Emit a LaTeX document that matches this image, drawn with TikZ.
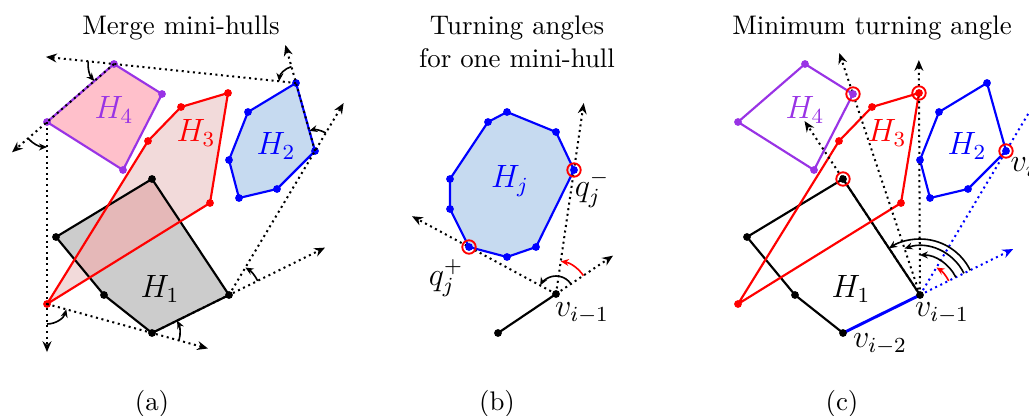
\documentclass[tikz,border=0pt]{standalone}
\usetikzlibrary{arrows.meta,calc}
\definecolor{hpurple}{rgb}{0.6,0.2,0.9}
\definecolor{hpink}{RGB}{255,192,203}
\definecolor{hblue}{RGB}{198,218,240}
\definecolor{hredfill}{RGB}{242,218,218}
\definecolor{hover}{RGB}{229,184,184}
\definecolor{hgray}{RGB}{204,204,204}
\newcommand\defhulls[1]{%
  \coordinate (#1A1) at (152,-179); \coordinate (#1A2) at (56,-237);
  \coordinate (#1A3) at (104,-295); \coordinate (#1A4) at (152,-333);
  \coordinate (#1A5) at (229,-295);
  \coordinate (#1B1) at (296,-83);  \coordinate (#1B2) at (248,-112);
  \coordinate (#1B3) at (229,-160); \coordinate (#1B4) at (239,-198);
  \coordinate (#1B5) at (277,-189); \coordinate (#1B6) at (315,-151);
  \coordinate (#1C1) at (47,-304);  \coordinate (#1C2) at (148,-141);
  \coordinate (#1C3) at (181,-107); \coordinate (#1C4) at (228,-93);
  \coordinate (#1C5) at (210,-203);
  \coordinate (#1D1) at (114,-64);  \coordinate (#1D2) at (162,-94);
  \coordinate (#1D3) at (123,-170); \coordinate (#1D4) at (47,-122);
}
\begin{document}
\begin{tikzpicture}[x=0.372pt,y=0.372pt,
  hull/.style={line width=0.8pt, line join=round},
  dotl/.style={line width=0.75pt, dash pattern=on 0.75pt off 1.35pt},
  dotarrow/.style={dotl, -{Stealth[length=4pt,width=3.3pt]}},
  turn/.style={line width=0.6pt, -{Stealth[length=3pt,width=2.6pt]}},
  pt/.style={circle, fill=#1, inner sep=0pt, minimum size=2.9pt},
  ring/.style={circle, draw=red, line width=0.7pt, inner sep=0pt, minimum size=5pt},
  lab/.style={inner sep=0pt, font=\fontsize{11.5}{14}\selectfont}]
\useasboundingbox (0,0) rectangle (1029,-416);

% ================= panel (a) =================
\defhulls{a}
\fill[hgray] (aA1)--(aA2)--(aA3)--(aA4)--(aA5)--cycle;
\fill[hredfill] (aC1)--(aC2)--(aC3)--(aC4)--(aC5)--cycle;
\begin{scope}
  \clip (aA1)--(aA2)--(aA3)--(aA4)--(aA5)--cycle;
  \fill[hover] (aC1)--(aC2)--(aC3)--(aC4)--(aC5)--cycle;
\end{scope}
\fill[hpink] (aD1)--(aD2)--(aD3)--(aD4)--cycle;
\fill[hblue] (aB1)--(aB2)--(aB3)--(aB4)--(aB5)--(aB6)--cycle;
\draw[hull,black] (aA1)--(aA2)--(aA3)--(aA4)--(aA5)--cycle;
\draw[hull,red] (aC1)--(aC2)--(aC3)--(aC4)--(aC5)--cycle;
\draw[hull,hpurple] (aD1)--(aD2)--(aD3)--(aD4)--cycle;
\draw[hull,blue] (aB1)--(aB2)--(aB3)--(aB4)--(aB5)--(aB6)--cycle;
\foreach \i in {1,...,5} \node[pt=black] at (aA\i) {};
\foreach \i in {1,...,6} \node[pt=blue] at (aB\i) {};
\foreach \i in {1,...,5} \node[pt=red] at (aC\i) {};
\foreach \i in {1,...,4} \node[pt=hpurple] at (aD\i) {};
% merged hull wrapping
\draw[dotarrow] (aC1) -- ($(aC1)!1.533!(aA4)$);
\draw[dotarrow] (aA4) -- ($(aA4)!2.247!(aA5)$);
\draw[dotarrow] (aA5) -- ($(aA5)!1.333!(aB6)$);
\draw[dotarrow] (aB6) -- ($(aB6)!1.559!(aB1)$);
\draw[dotarrow] (aB1) -- ($(aB1)!1.374!(aD1)$);
\draw[dotarrow] (aD1) -- ($(aD1)!1.522!(aD4)$);
\draw[dotarrow] (aD4) -- ($(aD4)!1.264!(aC1)$);
% turning angles
\draw[turn] ($(aC1)+(-90:20)$) arc[start angle=-90, end angle=-15.4, radius=20];
\draw[turn] ($(aA4)+(-15.4:28)$) arc[start angle=-15.4, end angle=26.3, radius=28];
\draw[turn] ($(aA5)+(26.3:32)$) arc[start angle=26.3, end angle=59.2, radius=32];
\draw[turn] ($(aB6)+(59.2:21)$) arc[start angle=59.2, end angle=105.6, radius=21];
\draw[turn] ($(aB1)+(105.6:17)$) arc[start angle=105.6, end angle=174, radius=17];
\draw[turn] ($(aD1)+(174:26)$) arc[start angle=174, end angle=220.9, radius=26];
\draw[turn] ($(aD4)+(220.9:25)$) arc[start angle=220.9, end angle=270, radius=25];
\node[lab] (la1) at (160,-289) {$H_1$};
\node[lab,blue] (la2) at (276,-146) {$H_2$};
\node[lab,red] (la3) at (196,-133) {$H_3$};
\node[lab,hpurple] (la4) at (114,-110) {$H_4$};
\node[anchor=base] (ta) at (181,-35) {Merge mini-hulls};
\node[anchor=base] (pa) at (152,-410) {(a)};

% ================= panel (b) =================
\coordinate (j1) at (507,-112); \coordinate (j2) at (488,-122);
\coordinate (j3) at (450,-179); \coordinate (j4) at (450,-209);
\coordinate (j5) at (469,-247); \coordinate (j6) at (507,-257);
\coordinate (j7) at (536,-247); \coordinate (j8) at (574,-170);
\coordinate (j9) at (556,-132);
\coordinate (bv) at (556,-294); \coordinate (bu) at (498,-333);
\fill[hblue] (j1)--(j2)--(j3)--(j4)--(j5)--(j6)--(j7)--(j8)--(j9)--cycle;
\draw[hull,blue] (j1)--(j2)--(j3)--(j4)--(j5)--(j6)--(j7)--(j8)--(j9)--cycle;
\draw[hull,black] (bu) -- (bv);
\draw[dotarrow] (bv) -- ($(bu)!1.983!(bv)$);
\draw[dotarrow] (bv) -- ($(bv)!1.655!(j5)$);
\draw[dotarrow] (bv) -- ($(bv)!1.54!(j8)$);
\foreach \i in {1,...,9} \node[pt=blue] at (j\i) {};
\node[pt=black] at (bv) {};
\node[pt=black] at (bu) {};
\node[ring] at (j5) {};
\node[ring] at (j8) {};
\draw[turn] ($(bv)+(33.9:18)$) arc[start angle=33.9, end angle=151.6, radius=18];
\draw[turn,red] ($(bv)+(33.9:33)$) arc[start angle=33.9, end angle=81.7, radius=33];
\node[lab,blue] (lj) at (510,-181) {$H_j$};
\node[lab] (lqm) at (592,-189) {$q_j^-$};
\node[lab] (lqp) at (446,-278) {$q_j^+$};
\node[lab] (lbv) at (582,-313) {$v_{i-1}$};
\node[anchor=base] (tb1) at (517,-35) {Turning angles};
\node[anchor=base] (tb2) at (517,-68) {for one mini-hull};
\node[anchor=base] (pb) at (497,-410) {(b)};

% ================= panel (c) =================
\begin{scope}[shift={(691,0)}]
\defhulls{c}
\end{scope}
\draw[hull,black] (cA1)--(cA2)--(cA3)--(cA4);
\draw[hull,black] (cA5)--(cA1);
\draw[hull,red] (cC1)--(cC2)--(cC3)--(cC4)--(cC5)--cycle;
\draw[hull,hpurple] (cD1)--(cD2)--(cD3)--(cD4)--cycle;
\draw[hull,blue] (cB1)--(cB2)--(cB3)--(cB4)--(cB5)--(cB6)--cycle;
\draw[line width=1.1pt,blue] (cA4) -- (cA5);
\draw[dotarrow] (cA5) -- ($(cA5)!1.5!(cA1)$);
\draw[dotarrow] (cA5) -- ($(cA5)!1.204!(cD2)$);
\draw[dotarrow] (cA5) -- ($(cA5)!1.163!(cC4)$);
\draw[dotl,blue] (cA5) -- ($(cA5)!1.6!(cB6)$);
\draw[dotarrow,blue] (cA5) -- ($(cA4)!2.21!(cA5)$);
\foreach \i in {1,...,5} \node[pt=black] at (cA\i) {};
\foreach \i in {1,...,6} \node[pt=blue] at (cB\i) {};
\foreach \i in {1,...,5} \node[pt=red] at (cC\i) {};
\foreach \i in {1,...,4} \node[pt=hpurple] at (cD\i) {};
\node[ring] at (cA1) {};
\node[ring] at (cC4) {};
\node[ring] at (cD2) {};
\node[ring] at (cB6) {};
\draw[turn,red] ($(cA5)+(26.3:32)$) arc[start angle=26.3, end angle=59.2, radius=32];
\draw[turn] ($(cA5)+(26.3:40)$) arc[start angle=26.3, end angle=90.3, radius=40];
\draw[turn] ($(cA5)+(26.3:49)$) arc[start angle=26.3, end angle=108.4, radius=49];
\draw[turn] ($(cA5)+(26.3:56)$) arc[start angle=26.3, end angle=123.6, radius=56];
\node[lab] (lc1) at (851,-289) {$H_1$};
\node[lab,blue] (lc2) at (967,-146) {$H_2$};
\node[lab,red] (lc3) at (887,-133) {$H_3$};
\node[lab,hpurple] (lc4) at (805,-110) {$H_4$};
\node[lab] (lcv1) at (942,-313) {$v_{i-1}$};
\node[lab] (lcv2) at (880,-344) {$v_{i-2}$};
\node[lab,anchor=west] (lcvi) at (1010,-167) {$v_i$};
\node[anchor=base] (tc) at (872,-35) {Minimum turning angle};
\node[anchor=base] (pc) at (842,-410) {(c)};
\end{tikzpicture}
\end{document}
